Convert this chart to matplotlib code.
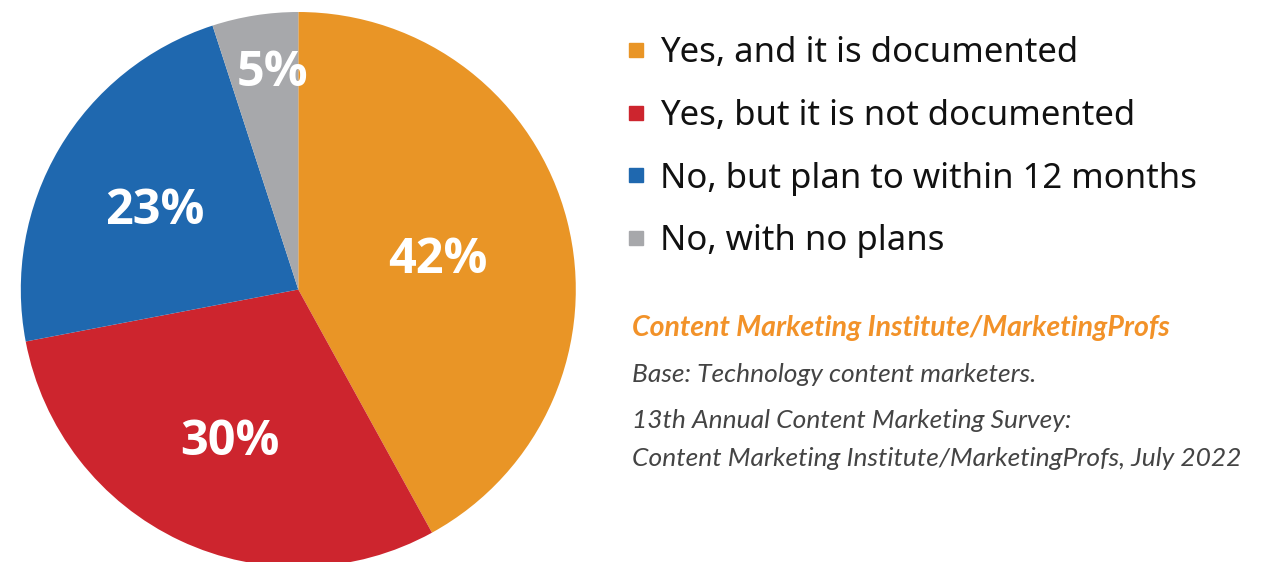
import matplotlib
matplotlib.use("Agg")
import matplotlib.pyplot as plt
from matplotlib.patches import Rectangle
import numpy as np

categories = ["Yes, and it is documented", "Yes, but it is not documented",
              "No, but plan to within 12 months", "No, with no plans"]
values = [42, 30, 23, 5]
colors = ["#E99526", "#CD252E", "#1F68AF", "#A7A8AB"]
label_dist = [0.52, 0.58, 0.60, 0.81]
label_nudge_deg = [0, 0, 0, -2.5]

source_title = "Content Marketing Institute/MarketingProfs"
source_lines = ["Base: Technology content marketers.",
                "13th Annual Content Marketing Survey:",
                "Content Marketing Institute/MarketingProfs, July 2022"]

W, H = 1263, 562
fig = plt.figure(figsize=(W / 100, H / 100), dpi=100)
fig.patch.set_facecolor("white")

def fx(px):
    return px / W

def fy(py):
    return 1 - py / H

R = 277.5
cx, cy = 298.3, 289.5
ax = fig.add_axes([fx(cx - R), fy(cy + R), 2 * R / W, 2 * R / H])
wedges, _ = ax.pie(values, colors=colors, startangle=90, counterclock=False,
                   radius=1, wedgeprops=dict(linewidth=0))
ax.set_xlim(-1, 1)
ax.set_ylim(-1, 1)
ax.set_aspect("auto")
ax.axis("off")

for w, v, d, nd in zip(wedges, values, label_dist, label_nudge_deg):
    ang = np.deg2rad((w.theta1 + w.theta2) / 2 + nd)
    ax.annotate(f"{v}%", (d * np.cos(ang), d * np.sin(ang)),
                xytext=(0, -5), textcoords="offset points",
                ha="center", va="center", color="white", fontsize=35,
                fontweight="bold", family="Open Sans")

# legend
leg_y = [50, 112.5, 175, 237.5]
for cat, col, y in zip(categories, colors, leg_y):
    fig.patches.append(Rectangle((fx(629), fy(y + 7)), 14 / W, 14 / H,
                                 transform=fig.transFigure, color=col))
    fig.text(fx(660), fy(y + 3.5), cat, ha="left", va="center", fontsize=25,
             family="Noto Sans", color="#111111")

fig.text(fx(632), fy(328), source_title, ha="left", va="center", fontsize=20.5,
         family="Lato", fontweight="bold", style="italic", color="#F29229")
src_y = [374, 421, 458]
for line, y in zip(source_lines, src_y):
    fig.text(fx(632), fy(y), line, ha="left", va="center", fontsize=19,
             family="Lato", fontweight="normal", style="italic", color="#444444")

fig.savefig("out.png", dpi=100, facecolor="white")
